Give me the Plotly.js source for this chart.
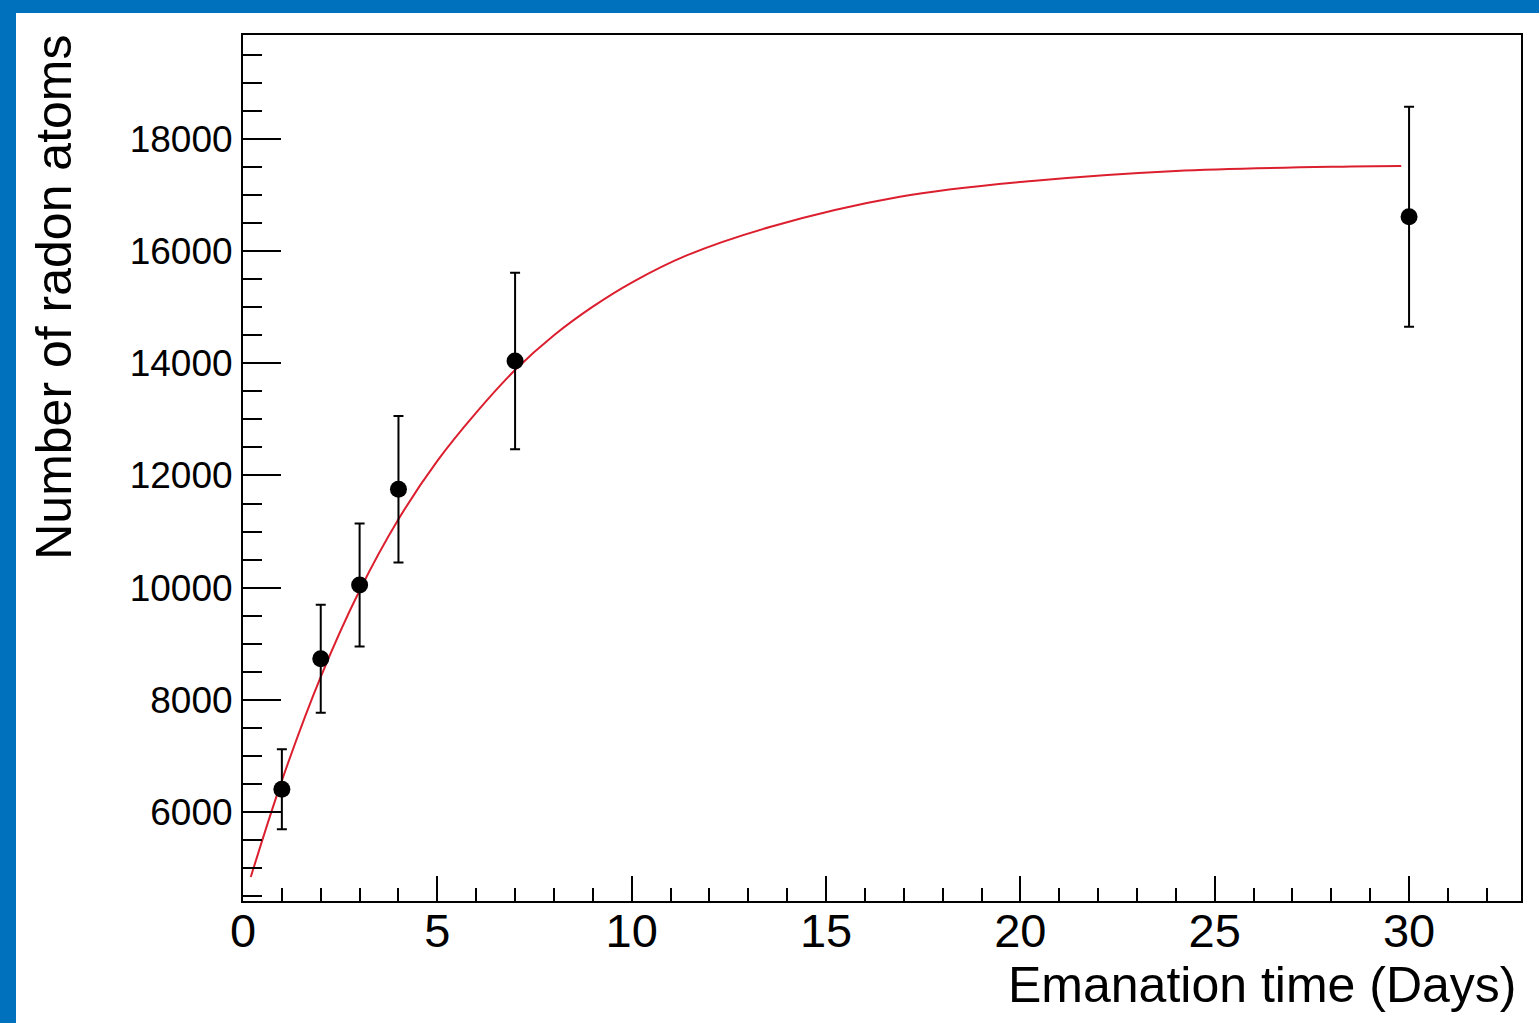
<!DOCTYPE html>
<html>
<head>
<meta charset="utf-8">
<script src="https://cdn.plot.ly/plotly-3.0.1.min.js"></script>
<style>
  html, body { margin: 0; padding: 0; background: #0071bd; width: 1539px; height: 1023px; overflow: hidden; }
  #frame { position: absolute; left: 16px; top: 13px; width: 1523px; height: 1010px; background: #ffffff; }
  #chart { width: 1523px; height: 1010px; }
</style>
</head>
<body>
<div id="frame"><div id="chart"></div></div>
<script>
// Measured data points (emanation time in days, number of radon atoms, error)
const days = [1, 2, 3, 4, 7, 30];
const atoms = [6405, 8734, 10048, 11754, 14042, 16615];
const atomsErr = [713, 963, 1097, 1307, 1575, 1961];

// Fit curve
const fitDays = [0.2, 1, 2, 3, 4, 5, 6, 7, 8, 9, 10, 11.4, 13.6, 16.9, 20.3, 24, 28.5, 29.8];
const fitAtoms = [4840, 6560, 8410, 9950, 11220, 12260, 13120, 13880, 14500, 15010, 15440, 15920, 16440, 16970, 17250, 17430, 17510, 17520];

const xTitle = 'Emanation time (Days)';
const yTitle = 'Number of radon atoms';

const FONT = 'Liberation Sans, Arial, Helvetica, sans-serif';

const traces = [
  {
    x: fitDays, y: fitAtoms, type: 'scatter', mode: 'lines',
    line: { color: '#dc1f2e', width: 2, shape: 'spline', smoothing: 1 },
    hoverinfo: 'skip', showlegend: false
  },
  {
    x: days, y: atoms, type: 'scatter', mode: 'markers',
    marker: { color: '#000000', size: 17 },
    error_y: { type: 'data', array: atomsErr, visible: true, color: '#000000', thickness: 2, width: 5 },
    showlegend: false
  }
];

const layout = {
  width: 1523, height: 1010,
  margin: { l: 227, r: 18, t: 22, b: 122 },
  paper_bgcolor: '#ffffff', plot_bgcolor: '#ffffff',
  font: { family: FONT, color: '#000000' },
  showlegend: false,
  xaxis: {
    range: [0, 32.88], showgrid: false, zeroline: false,
    showline: true, linecolor: '#000000', linewidth: 2, mirror: true,
    ticks: 'inside', ticklen: 25, tickwidth: 2, tickcolor: '#000000',
    tick0: 0, dtick: 5,
    tickfont: { family: FONT, size: 47, color: '#000000' },
    ticklabelstandoff: -12,
    minor: { ticks: 'inside', ticklen: 13, tickwidth: 2, tickcolor: '#000000', dtick: 1, showgrid: false }
  },
  yaxis: {
    range: [4413, 19854], showgrid: false, zeroline: false,
    showline: true, linecolor: '#000000', linewidth: 2, mirror: true,
    ticks: 'inside', ticklen: 38, tickwidth: 2, tickcolor: '#000000',
    tick0: 0, dtick: 2000, tickformat: 'd',
    tickfont: { family: FONT, size: 37, color: '#000000' },
    ticklabelstandoff: 1,
    minor: { ticks: 'inside', ticklen: 19, tickwidth: 2, tickcolor: '#000000', dtick: 500, showgrid: false }
  },
  annotations: [
    {
      text: xTitle, xref: 'paper', yref: 'paper',
      x: 0.9984, y: -0.097, xanchor: 'right', yanchor: 'middle',
      showarrow: false, font: { family: FONT, size: 50, color: '#000000' }
    },
    {
      text: yTitle, xref: 'paper', yref: 'paper', textangle: -90,
      x: -0.148, y: 1.003, xanchor: 'center', yanchor: 'top',
      showarrow: false, font: { family: FONT, size: 50, color: '#000000' }
    }
  ]
};

Plotly.newPlot('chart', traces, layout, { displayModeBar: false, staticPlot: true });
</script>
</body>
</html>
